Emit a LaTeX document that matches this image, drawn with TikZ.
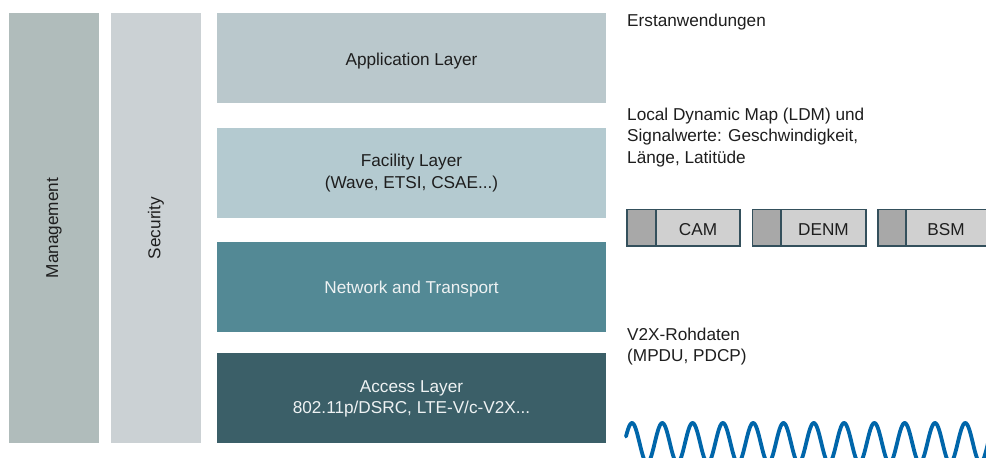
\documentclass[tikz,border=0pt]{standalone}
\usepackage{fontspec}
\setmainfont{Liberation Sans}
\definecolor{mgmt}{HTML}{B0BCBB}
\definecolor{secu}{HTML}{CBD1D4}
\definecolor{appl}{HTML}{BAC8CC}
\definecolor{faci}{HTML}{B4CAD0}
\definecolor{netw}{HTML}{538995}
\definecolor{accs}{HTML}{3B5F68}
\definecolor{msgl}{HTML}{D0D0D0}
\definecolor{msgd}{HTML}{A8A8A8}
\definecolor{msgb}{HTML}{34505C}
\definecolor{wave}{HTML}{0066AA}
\definecolor{txtd}{HTML}{1E1E1E}
\definecolor{txtl}{HTML}{EEF2F3}
\begin{document}
\begin{tikzpicture}[x=1pt,y=-1pt,
  lbl/.style={font=\fontsize{17.2}{21.5}\selectfont, inner sep=0pt, text=txtd},
  lbllight/.style={lbl, text=txtl},
  msgbox/.style={fill=msgl, draw=msgb, line width=1.3pt},
  msghead/.style={fill=msgd, draw=msgb, line width=1.3pt}]
\useasboundingbox (0,0) rectangle (986,458);
\fill[white] (0,0) rectangle (986,458);
\begin{scope}
\clip (0,0) rectangle (986,458);
% side columns
\fill[mgmt] (9,13) rectangle (99,443);
\fill[secu] (111,13) rectangle (201,443);
\node[lbl, rotate=90] (mgmt) at (54,228) {Management};
\node[lbl, rotate=90] (secu) at (156,228) {Security};
% layers
\fill[appl] (217,13) rectangle (606,103);
\fill[faci] (217,128) rectangle (606,218);
\fill[netw] (217,242) rectangle (606,332);
\fill[accs] (217,353) rectangle (606,443);
\node[lbl, anchor=base] (app) at (411.5,65.7) {Application Layer};
\node[lbl, anchor=base, align=center] (fac) at (411.5,188) {Facility Layer\\(Wave, ETSI, CSAE...)};
\node[lbllight, anchor=base] (net) at (411.5,293) {Network and Transport};
\node[lbllight, anchor=base, align=center] (acc) at (411.5,413.5) {Access Layer\\802.11p/DSRC, LTE-V/c-V2X...};
% right texts
\node[lbl, anchor=base west] (erst) at (627,26.7) {Erstanwendungen};
\node[lbl, anchor=base west, align=left] (ldm) at (627,163) {Local Dynamic Map (LDM) und\\Signalwerte: Geschwindigkeit,\\Länge, Latitüde};
\node[lbl, anchor=base west, align=left] (v2x) at (627,361.5) {V2X-Rohdaten\\(MPDU, PDCP)};
% message boxes
\draw[msgbox] (627,209.5) rectangle (740,246);
\draw[msghead] (627,209.5) rectangle (656,246);
\node[lbl, anchor=base] (cam) at (698,235) {CAM};
\draw[msgbox] (752.5,209.5) rectangle (866,246);
\draw[msghead] (752.5,209.5) rectangle (781,246);
\node[lbl, anchor=base] (denm) at (823.5,235) {DENM};
\draw[msgbox] (878,209.5) rectangle (1000,246);
\draw[msghead] (878,209.5) rectangle (906,246);
\node[lbl, anchor=base] (bsm) at (946,235) {BSM};
% wave
\draw[wave, line width=3.8pt, line cap=round, domain=626:995, samples=500, smooth]
  plot (\x, {443 - 20*sin((\x-624.4)/30.3*360)});
\end{scope}
\end{tikzpicture}
\end{document}
